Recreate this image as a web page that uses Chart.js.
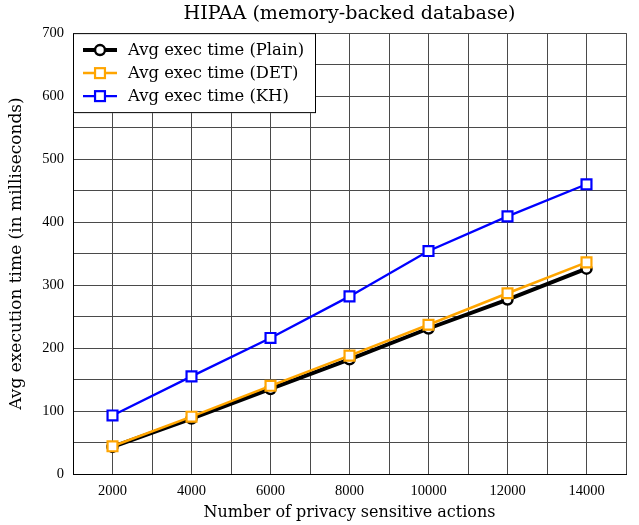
<!DOCTYPE html>
<html><head><meta charset="utf-8">
<script src="https://cdn.jsdelivr.net/npm/chart.js@4"></script>
<style>html,body{margin:0;padding:0;background:#fff;}#wrap{width:639px;height:525px;}</style>
</head><body><div id="wrap"><canvas id="c" width="639" height="525"></canvas></div>
<script>
const actions = [2000, 4000, 6000, 8000, 10000, 12000, 14000];
const plainTimes = [43, 88, 135, 182, 231, 277, 326];
const detTimes = [44, 91, 140, 188, 237, 287, 336];
const khTimes = [93, 155, 216, 282, 354, 409, 460];
const xTickLabels = ['2000','4000','6000','8000','10000','12000','14000'];
const yTickLabels = ['0','100','200','300','400','500','600','700'];
const seriesLabels = ['Avg exec time (Plain)', 'Avg exec time (DET)', 'Avg exec time (KH)'];
const FONT = 'DejaVu Serif';
const TICKFONT = 'Liberation Serif';

const pts = (ys) => actions.map((x, i) => ({x: x, y: ys[i]}));

const titleCenter = {
  id: 'titleCenter',
  afterLayout(chart) {
    if (chart.titleBlock) {
      chart.titleBlock.left = chart.chartArea.left;
      chart.titleBlock.right = chart.chartArea.right;
      chart.titleBlock.width = chart.chartArea.right - chart.chartArea.left;
    }
  }
};

const legendPlugin = {
  id: 'boxLegend',
  afterDatasetsDraw(chart) {
    const ctx = chart.ctx, a = chart.chartArea;
    const x0 = a.left, y0 = a.top, w = 243, h = 80;
    ctx.save();
    ctx.fillStyle = '#fff';
    ctx.fillRect(x0, y0, w, h);
    ctx.strokeStyle = '#000'; ctx.lineWidth = 1;
    ctx.strokeRect(x0 + 0.5, y0 + 0.5, w - 1, h - 1);
    const rows = [50, 73, 96].map(v => v - 33 + y0);
    chart.data.datasets.forEach((ds, i) => {
      const y = rows[i];
      ctx.strokeStyle = ds.borderColor; ctx.lineWidth = ds.borderWidth;
      ctx.beginPath(); ctx.moveTo(x0 + 10, y); ctx.lineTo(x0 + 44, y); ctx.stroke();
      ctx.fillStyle = '#fff'; ctx.strokeStyle = ds.pointBorderColor; ctx.lineWidth = ds.pointBorderWidth;
      const cx = x0 + 27;
      if (ds.pointStyle === 'circle') {
        ctx.beginPath(); ctx.arc(cx, y, ds.pointRadius, 0, Math.PI * 2); ctx.fill(); ctx.stroke();
      } else {
        const s = ds.pointRadius / Math.SQRT2;
        ctx.fillRect(cx - s, y - s, 2 * s, 2 * s); ctx.strokeRect(cx - s, y - s, 2 * s, 2 * s);
      }
      ctx.fillStyle = '#000'; ctx.font = '16.4px "' + FONT + '"';
      ctx.textBaseline = 'middle'; ctx.textAlign = 'left';
      ctx.fillText(ds.label, x0 + 55, y + 1);
    });
    ctx.restore();
  }
};

new Chart(document.getElementById('c'), {
  type: 'line',
  data: {
    datasets: [
      {label: seriesLabels[0], data: pts(plainTimes), borderColor: '#000', borderWidth: 4, pointStyle: 'circle', pointRadius: 5, pointBorderWidth: 2.5, pointBackgroundColor: '#fff', pointBorderColor: '#000', order: 3},
      {label: seriesLabels[1], data: pts(detTimes), borderColor: '#FFA500', borderWidth: 2.5, pointStyle: 'rect', pointRadius: 7, pointBorderWidth: 2.2, pointBackgroundColor: '#fff', pointBorderColor: '#FFA500', order: 2},
      {label: seriesLabels[2], data: pts(khTimes), borderColor: '#0000FF', borderWidth: 2.3, pointStyle: 'rect', pointRadius: 7, pointBorderWidth: 2.2, pointBackgroundColor: '#fff', pointBorderColor: '#0000FF', order: 1}
    ]
  },
  options: {
    responsive: false, animation: false,
    layout: {padding: {left: 0, right: 13, top: 0, bottom: 0}},
    plugins: {
      legend: {display: false}, tooltip: {enabled: false},
      title: {display: true, text: 'HIPAA (memory-backed database)', color: '#000', font: {family: FONT, size: 19.1, weight: 'normal'}, padding: {top: 3, bottom: 7.2}}
    },
    scales: {
      x: {
        type: 'linear', min: 1000, max: 15000,
        afterFit: (s) => { s.height = 51; },
        grid: {color: '#4a4a4a', lineWidth: 1, drawTicks: false},
        border: {color: '#000', width: 1},
        ticks: {stepSize: 1000, padding: 8, maxRotation: 0, minRotation: 0, autoSkip: false, color: '#000', font: {family: TICKFONT, size: 14.5},
          callback: (v) => { const i = xTickLabels.indexOf(String(v)); return i >= 0 ? xTickLabels[i] : ''; }},
        title: {display: true, text: 'Number of privacy sensitive actions', color: '#000', font: {family: FONT, size: 16}, padding: {top: 2, bottom: 3}}
      },
      y: {
        min: 0, max: 700,
        afterFit: (s) => { s.width = 73; },
        grid: {color: '#4a4a4a', lineWidth: 1, drawTicks: false},
        border: {color: '#000', width: 1},
        ticks: {stepSize: 50, padding: 9, autoSkip: false, color: '#000', font: {family: TICKFONT, size: 14.5},
          callback: (v) => { const i = yTickLabels.indexOf(String(v)); return i >= 0 ? yTickLabels[i] : ''; }},
        title: {display: true, text: 'Avg execution time (in milliseconds)', color: '#000', font: {family: FONT, size: 17}, padding: {top: 6, bottom: 4}}
      }
    }
  },
  plugins: [titleCenter, legendPlugin]
});
</script></body></html>
